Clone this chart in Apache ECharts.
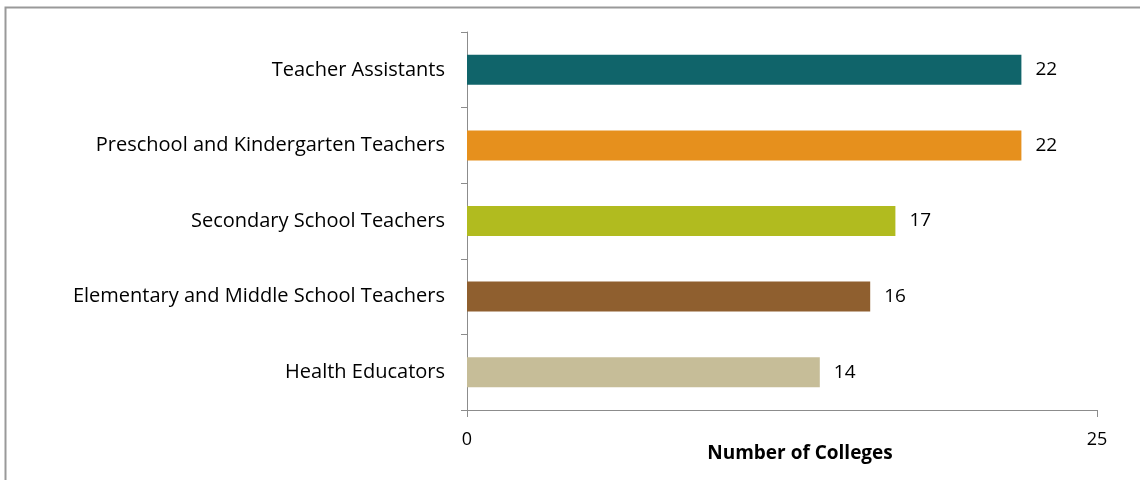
<!DOCTYPE html>
<html>
<head>
    <meta charset="UTF-8">
    <title>Number of Colleges</title>
    <script src="https://cdn.jsdelivr.net/npm/echarts@6/dist/echarts.min.js"></script>
    <style>
        html, body { margin: 0; padding: 0; background: #fff; }
        #main { width: 1140px; height: 480px; }
    </style>
</head>
<body>
<div id="main"></div>
<script type="text/javascript">
    // data
    var categories = ['Teacher Assistants', 'Preschool and Kindergarten Teachers', 'Secondary School Teachers',
        'Elementary and Middle School Teachers', 'Health Educators'];
    var values = [22, 22, 17, 16, 14];
    var barColors = ['#10646A', '#E6901D', '#B1BB1F', '#8F5F2F', '#C6BD98'];
    var xTicks = [0, 25];

    var font = '"Open Sans", sans-serif';
    var axisColor = '#8c8c8c';

    var myChart = echarts.init(document.getElementById('main'));
    myChart.setOption({
        animation: false,
        graphic: [{
            type: 'rect',
            shape: {x: 5.5, y: 7.5, width: 1160, height: 500},
            style: {fill: 'none', stroke: '#999', lineWidth: 2}
        }],
        grid: {left: 467, right: 43, top: 32, bottom: 70},
        xAxis: {
            type: 'value',
            min: xTicks[0],
            max: xTicks[xTicks.length - 1],
            interval: 25,
            name: 'Number of Colleges',
            nameLocation: 'middle',
            nameGap: 34,
            nameMoveOverlap: false,
            nameTextStyle: {fontFamily: font, fontSize: 19, fontWeight: 'bold', color: '#000', padding: [0, 0, 0, 36]},
            axisLine: {show: true, lineStyle: {color: axisColor, width: 1}},
            axisTick: {show: true, length: 7, lineStyle: {color: axisColor}},
            axisLabel: {fontFamily: font, fontSize: 18, color: '#000', margin: 21},
            splitLine: {show: false}
        },
        yAxis: {
            type: 'category',
            inverse: true,
            data: categories,
            axisLine: {show: true, lineStyle: {color: axisColor, width: 1}},
            axisTick: {show: true, length: 6, lineStyle: {color: axisColor}},
            axisLabel: {fontFamily: font, fontSize: 20, color: '#000', margin: 22}
        },
        series: [{
            type: 'bar',
            barWidth: 30,
            data: values.map(function (v, i) {
                return {value: v, itemStyle: {color: barColors[i]}};
            }),
            label: {
                show: true,
                position: 'right',
                distance: 14,
                fontFamily: font,
                fontSize: 19,
                color: '#000'
            }
        }]
    });
</script>
</body>
</html>
